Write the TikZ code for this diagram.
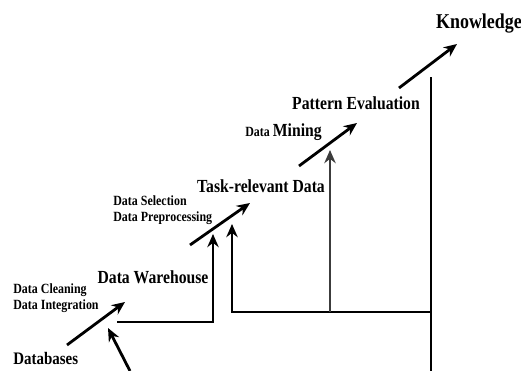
\documentclass[tikz,border=0pt]{standalone}
\usepackage{fontspec}
\setmainfont{Liberation Serif}[FakeStretch=0.85]
\usepackage{tikz}
\usetikzlibrary{arrows.meta, positioning}
\definecolor{linegray}{RGB}{60, 60, 60}

\begin{document}
\begin{tikzpicture}[x=0.02cm, y=-0.02cm, >={Stealth[length=7.5pt, width=6.5pt]},
    every node/.style={font=\bfseries, inner sep=0pt},
    bigtext/.style={font=\bfseries\fontsize{10.5}{12}\selectfont, anchor=base},
    smalltext/.style={font=\bfseries\fontsize{8}{9.2}\selectfont, align=left, anchor=base west},
    steparrow/.style={->, line width=1.6pt},
    frameline/.style={line width=1.6pt}]
    \useasboundingbox (0,0) rectangle (521,371);

    % labels
    \node[bigtext, font=\bfseries\fontsize{12}{14}\selectfont] (know) at (479,29) {Knowledge};
    \node[bigtext] (patt) at (356,110) {Pattern Evaluation};
    \node[anchor=base west] (mining) at (245,137) {\fontsize{8}{9}\selectfont Data \fontsize{10.5}{12}\selectfont Mining};
    \node[bigtext] (trd) at (261,193) {Task-relevant Data};
    \node[smalltext] (sel) at (113,222) {Data Selection\\Data Preprocessing};
    \node[bigtext] (dw) at (153,284) {Data Warehouse};
    \node[smalltext] (clean) at (13,310) {Data Cleaning\\Data Integration};
    \node[bigtext, anchor=base west, font=\bfseries\fontsize{10}{12}\selectfont] (db) at (13,365) {Databases};

    % arrow ends
    \coordinate (a1s) at (67,345);  \coordinate (a1e) at (125,302);
    \coordinate (a2s) at (190,245); \coordinate (a2e) at (250,203);
    \coordinate (a3s) at (299,166); \coordinate (a3e) at (357,123);
    \coordinate (a4s) at (399,88);  \coordinate (a4e) at (457,44);
    \coordinate (src) at (130,371); \coordinate (srce) at (108,328);
    \coordinate (dwl) at (117,322); \coordinate (dwr) at (213,322); \coordinate (dwup) at (213,234);
    \coordinate (fbot) at (431,371); \coordinate (ftop) at (431,77);
    \coordinate (fmid) at (431,312); \coordinate (fleft) at (232,312); \coordinate (fup) at (232,224);
    \coordinate (fm) at (330,312); \coordinate (fmup) at (330,150);

    \draw[steparrow] (a1s) -- (a1e);
    \draw[steparrow] (a2s) -- (a2e);
    \draw[steparrow] (a3s) -- (a3e);
    \draw[steparrow] (a4s) -- (a4e);
    \draw[steparrow] (src) -- (srce);
    \draw[->, line width=1pt] (dwl) -- (dwr) -- (dwup);
    \draw[frameline] (fbot) -- (ftop);
    \draw[->, frameline] (fmid) -- (fleft) -- (fup);
    \draw[->, line width=1.2pt, linegray] (fm) -- (fmup);
\end{tikzpicture}
\end{document}
